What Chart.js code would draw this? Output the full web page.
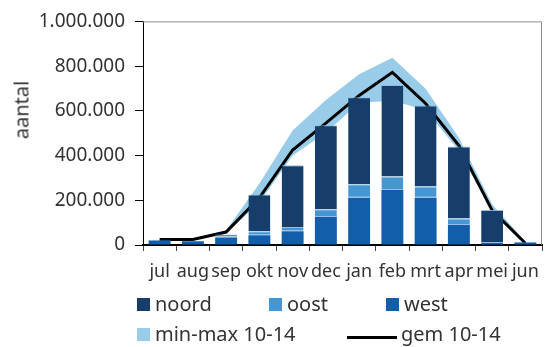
<!DOCTYPE html>
<html>
<head>
<meta charset="utf-8">
<script src="https://cdn.jsdelivr.net/npm/chart.js@4/dist/chart.umd.min.js"></script>
<style>
  html, body { margin: 0; padding: 0; background: #fff; }
  #wrap { position: relative; width: 551px; height: 347px; overflow: hidden; font-family: "Noto Sans", sans-serif; color: #333; }
  #yTitle { position: absolute; left: 21px; top: 110px; transform: translate(-50%, -50%) rotate(-90deg); font-size: 20px; white-space: nowrap; }
  .lg { position: absolute; display: flex; align-items: center; font-size: 20px; line-height: 1; white-space: nowrap; }
  .lg .box { width: 13px; height: 13px; margin-right: 5px; }
  .lg .ln { width: 50px; height: 3px; margin-right: 4px; position: relative; top: 3px; }
</style>
</head>
<body>
<div id="wrap">
  <canvas id="chart" width="551" height="347"></canvas>
  <div id="yTitle">aantal</div>
  <div id="legend"></div>
</div>
<script>
// maanden (jul t/m jun)
const maanden = ['jul', 'aug', 'sep', 'okt', 'nov', 'dec', 'jan', 'feb', 'mrt', 'apr', 'mei', 'jun'];

// regio's, gestapeld
const west  = [20000, 17000, 34000, 44000, 62000, 125000, 211000, 246000, 211000, 89000, 10000, 11000];
const oost  = [3000, 2000, 4000, 18000, 18000, 35000, 61000, 60000, 51000, 29000, 3000, 2000];
const noord = [0, 0, 9000, 164000, 277000, 376000, 389000, 410000, 362000, 323000, 144000, 0];

// referentie 2010-2014
const gem10_14 = [25000, 25000, 58000, 211000, 425000, 545000, 669000, 772000, 633000, 445000, 155000, 8000];
const min10_14 = [20000, 20000, 52000, 190000, 400000, 502000, 636000, 645000, 604000, 422000, 148000, 3000];
const max10_14 = [30000, 30000, 66000, 275000, 512000, 648000, 764000, 837000, 699000, 480000, 182000, 16000];

const yTicks = [0, 200000, 400000, 600000, 800000, 1000000];

const kleurNoord = '#173e6b';
const kleurOost = '#4597d3';
const kleurWest = '#135eaa';
const kleurBand = '#98cce8';

function puntjes(v) {
    return String(v).replace(/\B(?=(\d{3})+(?!\d))/g, '.');
}

Chart.defaults.font.family = '"Noto Sans", sans-serif';
Chart.defaults.color = '#333';

// grijze rand boven en rechts van het plotgebied
const kader = {
    id: 'kader',
    beforeDatasetsDraw(chart) {
        const { ctx, chartArea: a } = chart;
        ctx.save();
        ctx.strokeStyle = '#8c8c8c';
        ctx.lineWidth = 1;
        ctx.beginPath();
        ctx.moveTo(a.left, a.top + 0.5);
        ctx.lineTo(a.right - 0.5, a.top + 0.5);
        ctx.lineTo(a.right - 0.5, a.bottom);
        ctx.stroke();
        ctx.restore();
    }
};

// lichte naad tussen de segmenten
const naad = 'rgba(140,185,225,0.9)';
const balk = { borderColor: naad, borderSkipped: false, stack: 'regio', order: 1, categoryPercentage: 1, barPercentage: 0.66 };

const ctx = document.getElementById('chart').getContext('2d');
const chart = new Chart(ctx, {
    type: 'bar',
    data: {
        labels: maanden,
        datasets: [
            Object.assign({ label: 'west', data: west, backgroundColor: kleurWest, borderWidth: 0 }, balk),
            Object.assign({ label: 'oost', data: oost, backgroundColor: kleurOost, borderWidth: { top: 1, bottom: 1, left: 0, right: 0 } }, balk),
            Object.assign({ label: 'noord', data: noord, backgroundColor: kleurNoord, borderWidth: { top: 1, bottom: 0, left: 0, right: 0 } }, balk),
            { type: 'line', label: 'min 10-14', data: min10_14, borderColor: 'transparent', borderWidth: 0, pointRadius: 0, fill: false, stack: 'min', order: 3 },
            { type: 'line', label: 'min-max 10-14', data: max10_14, borderColor: 'transparent', borderWidth: 0, pointRadius: 0, backgroundColor: kleurBand, fill: '-1', stack: 'max', order: 3 },
            // lijn ligt achter de balken, boven de band
            { type: 'line', label: 'gem 10-14', data: gem10_14, borderColor: '#000', borderWidth: 3, pointRadius: 0, fill: false, tension: 0, stack: 'gem', order: 2 }
        ]
    },
    options: {
        responsive: false,
        animation: false,
        layout: { padding: { left: 0, top: 16, right: 9, bottom: 62 } },
        plugins: {
            legend: { display: false },
            tooltip: { enabled: false }
        },
        scales: {
            x: {
                stacked: true,
                grid: { drawOnChartArea: false, offset: true, tickLength: 6, color: '#444' },
                border: { color: '#000', width: 2 },
                ticks: { font: { size: 18 }, padding: 10, maxRotation: 0, autoSkip: false },
                afterFit: s => { s.height = 40; }
            },
            y: {
                stacked: true,
                min: 0,
                max: 1000000,
                afterBuildTicks: s => { s.ticks = yTicks.map(v => ({ value: v })); },
                ticks: { font: { size: 19 }, padding: 10, callback: v => puntjes(v) },
                grid: { drawOnChartArea: false, tickLength: 8, color: '#000' },
                border: { color: '#000', width: 1 },
                afterFit: s => { s.width = 143; }
            }
        }
    },
    plugins: [kader]
});

// legenda zoals in het origineel: twee rijen
const legendaPlek = {
    'noord': [137, 294], 'oost': [269, 294], 'west': [386, 294],
    'min-max 10-14': [137, 324], 'gem 10-14': [347, 324]
};
const legenda = document.getElementById('legend');
chart.data.datasets.forEach(ds => {
    const plek = legendaPlek[ds.label];
    if (!plek) return;
    const item = document.createElement('div');
    item.className = 'lg';
    item.style.left = plek[0] + 'px';
    item.style.top = plek[1] + 'px';
    const teken = document.createElement('span');
    if (ds.type === 'line' && !ds.fill) {
        teken.className = 'ln';
        teken.style.background = ds.borderColor;
    } else {
        teken.className = 'box';
        teken.style.background = ds.backgroundColor;
    }
    item.appendChild(teken);
    item.appendChild(document.createTextNode(ds.label));
    legenda.appendChild(item);
});
</script>
</body>
</html>
